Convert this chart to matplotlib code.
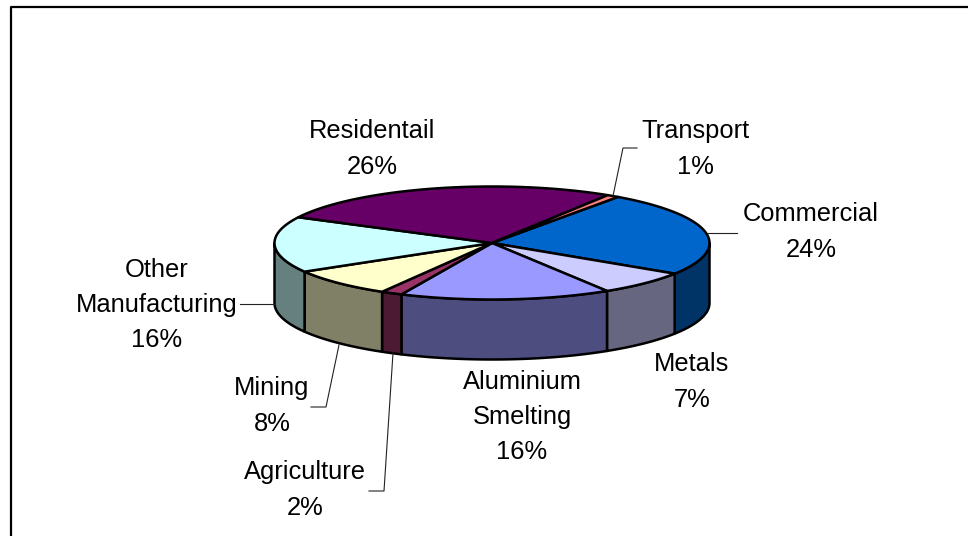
import numpy as np
import matplotlib
matplotlib.use('Agg')
import matplotlib.pyplot as plt
from matplotlib.patches import Polygon

plt.rcParams['font.family'] = ['Liberation Sans', 'DejaVu Sans']

# data
sectors = ['Commercial', 'Metals', 'Aluminium\nSmelting', 'Agriculture', 'Mining',
           'Other\nManufacturing', 'Residentail', 'Transport']
shares = [24.3, 7.0, 15.7, 1.6, 8.1, 16.0, 26.4, 0.9]
top_colors = ['#0066CC', '#CCCCFF', '#9999FF', '#993366', '#FFFFCC', '#CCFFFF', '#660066', '#FF8080']
side_colors = ['#003366', '#666680', '#4D4D80', '#4D1A33', '#808066', '#668080', '#330033', '#804040']

# label centre (px) and leader line for each sector
label_pos = [(811, 232), (692, 382), (522, 417), (305, 490), (272, 406), (157, 305), (372, 149), (695, 149)]
leaders = [[(708, 233), (737, 233)], None, None,
           [(393, 353), (384, 491), (369, 491)],
           [(339, 345), (326, 407), (311, 407)],
           [(275, 304), (240, 304)],
           None,
           [(613, 196), (623, 148), (637, 148)]]

# pie geometry in pixels
cx, cy = 492, 243
rx, ry = 217.5, 56.5
depth = 60
start = 54.6

fig = plt.figure(figsize=(9.68, 5.36), dpi=100)
ax = fig.add_axes([0, 0, 1, 1])
ax.set_xlim(0, 968)
ax.set_ylim(536, 0)
ax.axis('off')

# chart border, only top and left show
ax.plot([11, 11, 968], [536, 7, 7], color='black', lw=1.6, solid_capstyle='butt')


def rim(a1, a2):
    t = np.radians(np.linspace(a1, a2, 120))
    return np.column_stack([cx + rx * np.cos(t), cy - ry * np.sin(t)])


# angles run clockwise from the start
edges = start - np.cumsum([0] + shares) * 3.6

# side walls: only the front half of the rim
for i in range(len(shares)):
    a1 = min(edges[i], 0)
    a2 = max(edges[i + 1], -180)
    if a1 <= a2:
        continue
    arc = rim(a1, a2)
    wall = np.vstack([arc, (arc + [0, depth])[::-1]])
    ax.add_patch(Polygon(wall, closed=True, fc=side_colors[i], ec='black', lw=1.8, joinstyle='round'))

# top surface
for i in range(len(shares)):
    arc = rim(edges[i], edges[i + 1])
    ax.add_patch(Polygon(np.vstack([[cx, cy], arc]), closed=True, fc=top_colors[i], ec='black',
                         lw=1.8, joinstyle='round'))

# labels
for name, val, pos, line in zip(sectors, shares, label_pos, leaders):
    ax.text(pos[0], pos[1], f'{name}\n{val:.0f}%', ha='center', va='center', fontsize=18.4,
            color='black', linespacing=1.58)
    if line:
        xs, ys = zip(*line)
        ax.plot(xs, ys, color='#222222', lw=0.8)

fig.savefig('out.png', dpi=100)
